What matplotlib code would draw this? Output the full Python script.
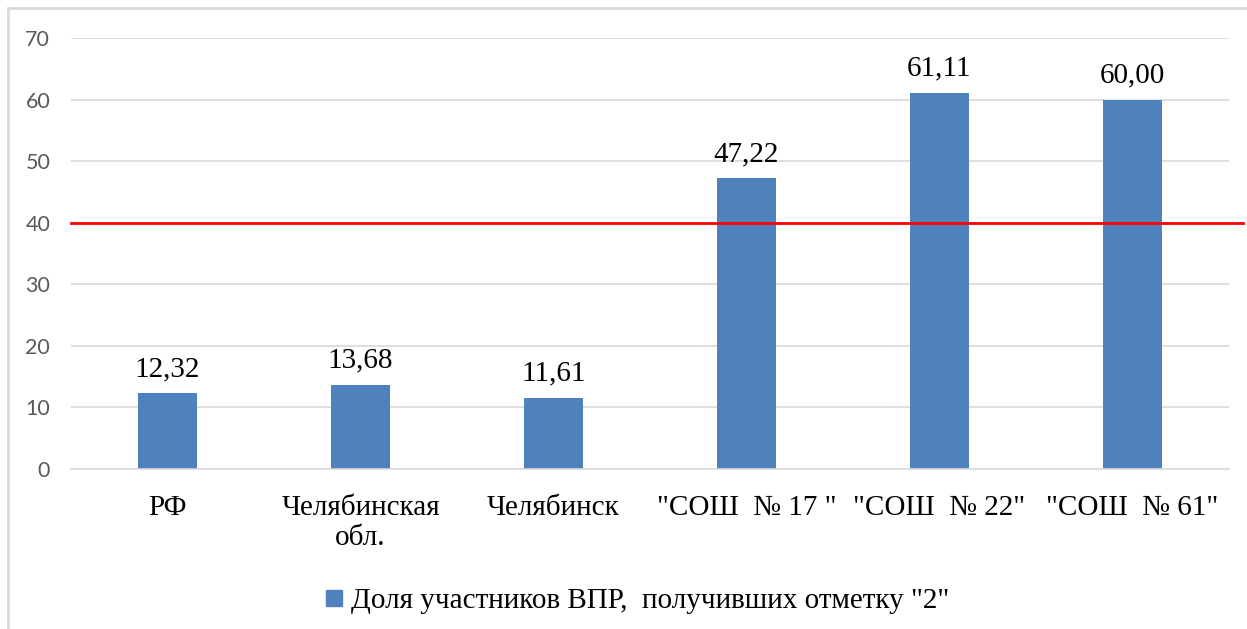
import matplotlib
matplotlib.use("Agg")
import matplotlib.pyplot as plt
from matplotlib.patches import Rectangle
from matplotlib.lines import Line2D

categories = ["РФ", "Челябинская\nобл.", "Челябинск", "\"СОШ  № 17 \"", "\"СОШ  № 22\"", "\"СОШ  № 61\""]
values = [12.32, 13.68, 11.61, 47.22, 61.11, 60.00]
value_labels = ["12,32", "13,68", "11,61", "47,22", "61,11", "60,00"]
yticks = [0, 10, 20, 30, 40, 50, 60, 70]
threshold = 40
legend_label = "Доля участников ВПР,  получивших отметку \"2\""

W, H = 1247, 629
fig = plt.figure(figsize=(W / 100, H / 100), dpi=100)
fig.patch.set_facecolor("white")

# outer frame
fig.patches.append(Rectangle((8 / W, -0.1), 1.2, (H - 8) / H + 0.1, transform=fig.transFigure,
                             fill=False, edgecolor="#d9d9d9", linewidth=2.0))

ax = fig.add_axes([71 / W, 1 - 469 / H, (1229 - 71) / W, (469 - 38) / H])
bar_color = "#4f81bd"
x = list(range(len(categories)))
ax.bar(x, values, width=0.31, color=bar_color, zorder=2)
ax.set_xlim(-0.5, len(categories) - 0.5)
ax.set_ylim(0, 70)
ax.set_yticks(yticks)
ax.set_yticklabels([str(t) for t in yticks], fontfamily="Lato", fontsize=15.5, color="#595959")
ax.yaxis.grid(True, color="#d9d9d9", linewidth=1.2, zorder=0)
ax.set_axisbelow(True)
for s in ax.spines.values():
    s.set_visible(False)
ax.spines["bottom"].set_visible(True)
ax.spines["bottom"].set_color("#d9d9d9")
ax.spines["bottom"].set_linewidth(1.2)
ax.tick_params(axis="both", length=0)
ax.tick_params(axis="y", pad=15)
ax.set_xticks(x)
ax.set_xticklabels(categories, fontfamily="Liberation Serif", fontsize=21, color="#000000",
                   linespacing=1.2, va="top")
ax.tick_params(axis="x", pad=19)

for xi, v, lab in zip(x, values, value_labels):
    ax.annotate(lab, (xi, v), xytext=(0, 8), textcoords="offset points",
                ha="center", va="bottom", fontfamily="Liberation Serif", fontsize=21, color="#000000")

# threshold line extending slightly past the plot area
ax.plot([-0.5, len(categories) - 0.43], [threshold, threshold], color="#ff0000", linewidth=2.0,
        zorder=3, clip_on=False)

handle = Line2D([], [], marker="s", linestyle="none", markersize=11, color=bar_color)
fig.legend([handle], [legend_label], loc="center", bbox_to_anchor=(636 / W, 1 - 601 / H),
           frameon=False, prop={"family": "Liberation Serif", "size": 21},
           handletextpad=0.2, handlelength=0.8)

fig.savefig("out.png", dpi=100, facecolor="white")
